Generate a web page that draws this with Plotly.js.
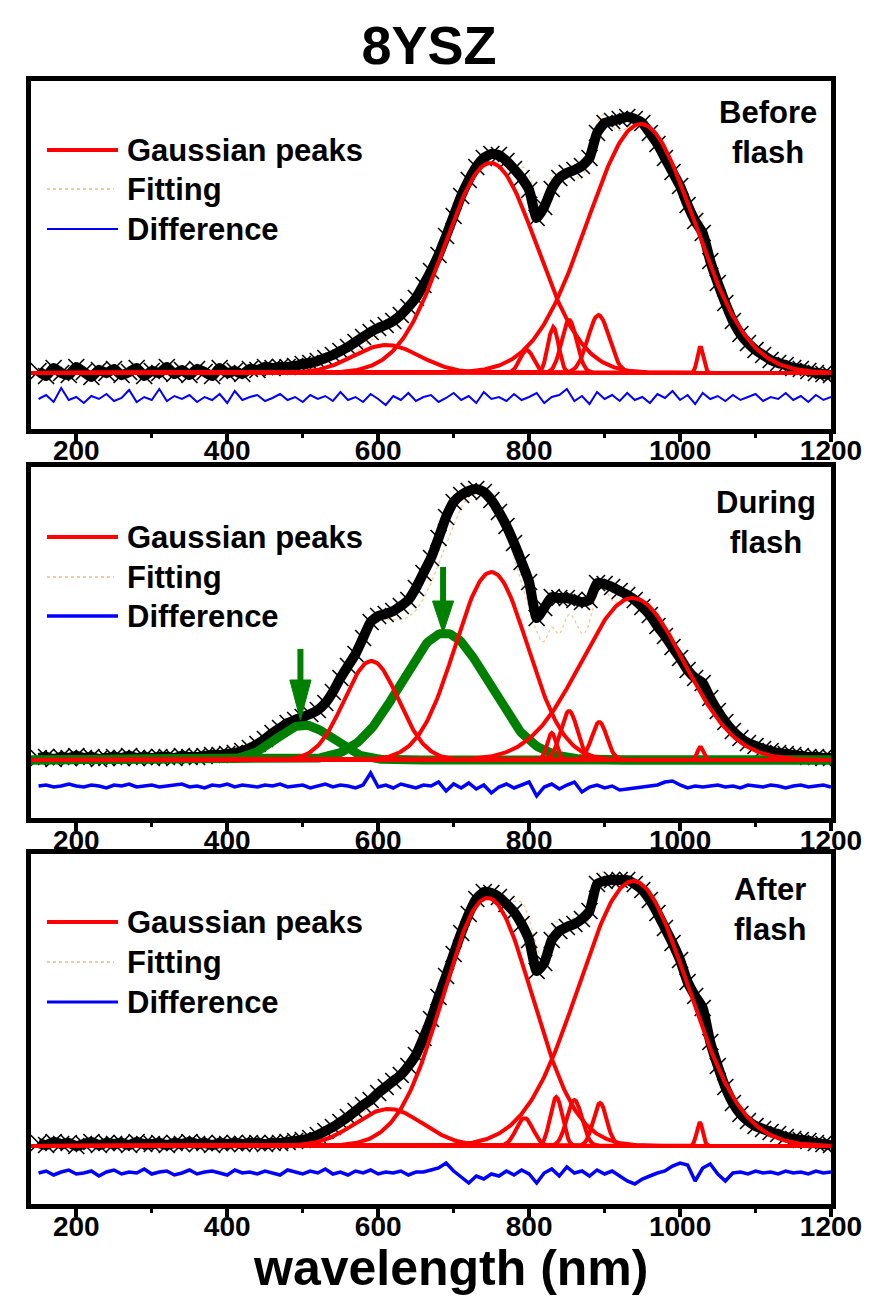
<!DOCTYPE html>
<html><head><meta charset="utf-8">
<script src="https://cdn.plot.ly/plotly-3.0.1.min.js"></script>
<style>html,body{margin:0;padding:0;background:#fff}#chart{width:874px;height:1301px}</style>
</head><body><div id="chart"></div>
<script>
// ---------------- DATA ----------------
const wavelength = [150,160,170,180,190,200,210,220,230,240,250,260,270,280,290,300,310,320,330,340,350,360,370,380,390,400,410,420,430,440,450,460,470,480,490,500,510,520,530,540,550,560,570,580,590,600,610,620,630,640,650,660,670,680,690,700,710,720,730,740,750,760,770,780,790,800,810,820,830,840,850,860,870,880,890,900,910,920,930,940,950,960,970,980,990,1000,1010,1020,1030,1040,1050,1060,1070,1080,1090,1100,1110,1120,1130,1140,1150,1160,1170,1180,1190,1200];
const xTicks = [200,400,600,800,1000,1200];
const legendLabels = ['Gaussian peaks','Fitting','Difference'];
const panelLabels = ['Before<br>flash','During<br>flash','After<br>flash'];

// Before flash
const beforeData = [2,-3,5,0,-2,6,1,-4,3,0,4,-2,1,5,-3,2,0,6,-1,3,-2,4,1,-3,5,0,2,-1,4,3,6,
 5,6,6,7,9,10,12,15,18,22,26,31,36,41,45,48,52,58,66,75,88,102,118,137,157,177,193,206,215,219,218,212,204,195,183,155,166,184,195,200,203,207,215,240,250,252,254,256,254,250,240,229,215,201,187,168,152,140,112,90,70,52,39,30,23,18,13,10,8,5,4,2,0,-1,-2];
const beforeDiff = [-26,-22,-29,-15,-27,-24,-30,-23,-26,-21,-28,-25,-17,-29,-24,-27,-16,-28,-23,-26,-22,-29,-24,-27,-21,-30,-18,-27,-24,-22,-28,-25,-21,-27,-24,-29,-22,-26,-23,-28,-19,-27,-24,-29,-21,-26,-32,-23,-27,-20,-28,-24,-22,-29,-25,-20,-27,-23,-30,-19,-26,-24,-28,-21,-27,-24,-20,-30,-24,-22,-16,-28,-23,-31,-19,-26,-22,-28,-20,-27,-24,-30,-21,-25,-18,-27,-22,-31,-20,-26,-23,-28,-22,-27,-24,-21,-28,-24,-26,-20,-27,-23,-29,-22,-27,-24];
const beforePeakCenters = [611,749,797,832,853,892,948,1027];
const beforePeakHeights = [28,210,23,46,53,58,249,26];
const beforePeakWidths  = [44,61,9,7,10,14,71,4];

// During flash
const duringData = [2,3,1,3,2,4,2,3,1,2,3,2,4,2,3,2,3,3,2,4,3,
 3,4,5,5,6,7,9,12,16,21,27,32,37,40,43,46,50,57,68,82,94,106,122,138,144,146,149,154,160,172,187,202,222,243,258,265,269,271,268,260,248,234,217,198,178,142,152,163,162,162,160,158,160,177,176,173,169,165,160,153,145,134,124,113,102,90,82,77,62,49,38,29,22,17,14,11,9,7,6,5,4,3,3,2,2];
const duringDiff = [-26,-25,-27,-26,-24,-26,-27,-25,-26,-28,-25,-26,-24,-27,-26,-25,-27,-26,-25,-24,-27,-26,-28,-25,-26,-24,-27,-25,-26,-27,-25,-26,-24,-27,-26,-25,-28,-26,-24,-27,-25,-26,-28,-25,
 -13,-27,-25,-28,-24,-26,-28,-25,-26,-22,-31,-24,-28,-23,-29,-25,-33,-27,-24,-28,-25,-22,-36,-27,-24,-29,-25,-22,-32,-27,-25,-28,-26,-30,-29,-28,-27,-26,-25,-22,-21,-25,-28,-26,-27,-26,-25,-27,-26,-28,-25,-26,-27,-25,-26,-28,-26,-25,-27,-26,-25,-27];
const duringPeakCenters = [591,750,830,853,893,937,1027];
const duringPeakHeights = [99,188,27,49,38,162,13];
const duringPeakWidths  = [36,48,6,11,10,68,4];
const duringNewPeakCenters = [502,688];
const duringNewPeakHeights = [35,127];
const duringNewPeakWidths  = [37,58];

// After flash
const afterData = [3,1,4,2,3,0,2,4,1,3,2,3,1,4,2,2,3,1,3,2,4,2,3,1,3,2,3,2,3,3,2,
 3,3,4,5,6,8,11,15,19,24,29,35,41,46,53,59,65,71,80,91,108,127,149,170,192,213,232,247,254,253,249,242,234,222,206,175,183,206,215,219,222,227,235,262,265,266,266,266,262,256,246,233,218,203,186,164,150,138,104,80,59,43,32,25,20,17,14,12,9,7,6,5,3,2,1];
const afterDiff = [-27,-25,-29,-26,-24,-28,-27,-25,-30,-26,-24,-28,-26,-27,-23,-28,-26,-25,-29,-27,-24,-28,-26,-25,-27,-29,-24,-27,-26,-28,-25,-27,-29,-24,-26,-28,-25,-27,-23,-28,-26,-29,-25,-27,-24,-28,-26,-27,-25,-29,-26,
 -26,-24,-22,-17,-25,-31,-37,-30,-33,-28,-30,-25,-29,-24,-28,-37,-27,-23,-30,-21,-27,-25,-30,-24,-28,-25,-30,-35,-38,-33,-30,-27,-25,-20,-17,-19,-35,-22,-18,-28,-35,-27,-26,-28,-25,-27,-26,-28,-25,-27,-26,-28,-25,-27,-26];
const afterPeakCenters = [614,745,794,836,860,894,938,1026];
const afterPeakHeights = [37,248,28,49,46,43,265,24];
const afterPeakWidths  = [45,59,11,8,10,9,72,4];

// arrows marking the new (green) peaks during flash: wavelength, tail, head base, tip
const arrowX = [497,686];
const arrowTail = [111,193];
const arrowBase = [80,159];
const arrowTip = [40,127];

// ---------------- CHART ----------------
const FONT = 'Liberation Sans, Arial, Helvetica, sans-serif';
const W = 874, H = 1301;
const M = {l:31, r:43, t:81, b:97};
const plotTop = M.t, plotBot = H - M.b, plotH = plotBot - plotTop;
const plotW = W - M.l - M.r;
const px2x = px => (px - M.l) / plotW;
const py2y = py => (plotBot - py) / plotH;

const panelFrames = [[81,428.5],[466.5,818],[854,1204]];
const baselines = [373,760,1146];
const legendRows = [[150,189,229],[537,577,616],[922,962,1002]];
const labelPos = [[768,132.5],[766,522.5],[770,909]];
const diffWidths = [2,3.5,3.5];
const legendDiffWidths = [2,3.5,3];
const TXT = 31;

// evaluation grid for Gaussian components
const evalGrid = [];
for (let v = 140; v <= 1200; v += 2) evalGrid.push(v);
function gauss(c, h, s) { return evalGrid.map(v => h * Math.exp(-((v - c) ** 2) / (2 * s * s))); }

const panels = [
  {data: beforeData, diff: beforeDiff, peaks: [beforePeakCenters, beforePeakHeights, beforePeakWidths], green: null},
  {data: duringData, diff: duringDiff, peaks: [duringPeakCenters, duringPeakHeights, duringPeakWidths], green: [duringNewPeakCenters, duringNewPeakHeights, duringNewPeakWidths]},
  {data: afterData, diff: afterDiff, peaks: [afterPeakCenters, afterPeakHeights, afterPeakWidths], green: null}
];

const traces = [];
const layout = {
  width: W, height: H, margin: M, showlegend: false,
  paper_bgcolor: '#fff', plot_bgcolor: '#fff',
  font: {family: FONT, color: '#000'},
  title: {text: '<b>8YSZ</b>', font: {family: FONT, size: 54, color: '#000'}, x: 429 / W, xanchor: 'center', y: 1 - 45 / H, yanchor: 'middle'},
  annotations: [], shapes: []
};

panels.forEach((p, i) => {
  const n = i === 0 ? '' : String(i + 1);
  const xa = 'x' + n, ya = 'y' + n;
  const [ft, fb] = panelFrames[i];
  const base = baselines[i];
  layout['xaxis' + n] = {
    domain: [0, 1], range: [140, 1200], anchor: ya, automargin: false,
    showline: true, linewidth: 5, linecolor: '#000', mirror: true,
    showgrid: false, zeroline: false,
    tickmode: 'array', tickvals: xTicks, ticktext: xTicks.map(String),
    ticks: 'outside', ticklen: 8, tickwidth: 4, tickcolor: '#000', ticklabelstandoff: -15,
    tickfont: {family: FONT, size: 28, color: '#000', weight: 'bold'},
    minor: {tickmode: 'array', tickvals: [300,500,700,900,1100], ticks: 'outside', ticklen: 4, tickwidth: 3, tickcolor: '#000', showgrid: false}
  };
  layout['yaxis' + n] = {
    domain: [py2y(fb), py2y(ft)], range: [-(fb - base), base - ft], anchor: xa, automargin: false,
    showline: true, linewidth: 5, linecolor: '#000', mirror: true,
    showgrid: false, zeroline: false, showticklabels: false, ticks: ''
  };

  // Gaussian components and their sum (fit)
  const fit = evalGrid.map(() => 0);
  const compTraces = [];
  if (p.green) {
    const [gc, gh, gw] = p.green;
    gc.forEach((c, k) => {
      const g = gauss(c, gh[k], gw[k]);
      g.forEach((v, j) => fit[j] += v);
      compTraces.push({x: evalGrid, y: g, xaxis: xa, yaxis: ya, type: 'scatter', mode: 'lines', line: {color: '#008000', width: 9}, hoverinfo: 'skip'});
    });
  }
  const [pc, ph, pw] = p.peaks;
  pc.forEach((c, k) => {
    const g = gauss(c, ph[k], pw[k]);
    g.forEach((v, j) => fit[j] += v);
    compTraces.push({x: evalGrid, y: g, xaxis: xa, yaxis: ya, type: 'scatter', mode: 'lines', line: {color: '#ff0000', width: 4}, hoverinfo: 'skip'});
  });

  // cumulative fit (under the measured band)
  traces.push({x: evalGrid, y: fit, xaxis: xa, yaxis: ya, type: 'scatter', mode: 'lines', line: {color: '#ffc28a', width: 1.2, dash: 'dot'}, hoverinfo: 'skip'});

  // measured spectrum
  const L = Math.min(wavelength.length, p.data.length);
  traces.push({x: wavelength.slice(0, L), y: p.data.slice(0, L), xaxis: xa, yaxis: ya, type: 'scatter', mode: 'lines+markers',
    line: {color: '#000', width: 10, shape: 'spline', smoothing: 0.5},
    marker: {symbol: 'x-thin-open', size: 16, color: '#000', line: {color: '#000', width: 1.6}}, hoverinfo: 'skip'});

  compTraces.forEach(t => traces.push(t));

  // difference
  const Ld = Math.min(wavelength.length, p.diff.length);
  traces.push({x: wavelength.slice(0, Ld), y: p.diff.slice(0, Ld), xaxis: xa, yaxis: ya, type: 'scatter', mode: 'lines', line: {color: '#0000ff', width: diffWidths[i]}, hoverinfo: 'skip'});

  // manual legend
  const rows = legendRows[i];
  const x0 = px2x(47), x1 = px2x(118);
  layout.shapes.push({type: 'line', xref: 'paper', yref: 'paper', x0, x1, y0: py2y(rows[0]), y1: py2y(rows[0]), line: {color: '#ff0000', width: 4}});
  layout.shapes.push({type: 'line', xref: 'paper', yref: 'paper', x0, x1: px2x(114), y0: py2y(rows[1]), y1: py2y(rows[1]), line: {color: '#f8c9a0', width: 2, dash: 'dot'}});
  layout.shapes.push({type: 'line', xref: 'paper', yref: 'paper', x0, x1, y0: py2y(rows[2]), y1: py2y(rows[2]), line: {color: '#0000ff', width: legendDiffWidths[i]}});
  legendLabels.forEach((t, k) => {
    layout.annotations.push({xref: 'paper', yref: 'paper', x: px2x(125), y: py2y(rows[k]), xanchor: 'left', yanchor: 'middle',
      text: '<b>' + t + '</b>', showarrow: false, font: {family: FONT, size: TXT, color: '#000'}});
  });
  layout.annotations.push({xref: 'paper', yref: 'paper', x: px2x(labelPos[i][0]), y: py2y(labelPos[i][1]), xanchor: 'center', yanchor: 'middle', align: 'center',
    text: '<b>' + panelLabels[i] + '</b>', showarrow: false, font: {family: FONT, size: TXT, color: '#000'}});
});

// arrows in the "During flash" panel
arrowX.forEach((ax, k) => {
  layout.shapes.push({type: 'line', xref: 'x2', yref: 'y2', x0: ax, x1: ax, y0: arrowTail[k], y1: arrowBase[k] - 2, line: {color: '#008000', width: 6}});
  layout.shapes.push({type: 'path', xref: 'x2', yref: 'y2', path: `M${ax - 14},${arrowBase[k]} L${ax + 14},${arrowBase[k]} L${ax},${arrowTip[k]} Z`, fillcolor: '#008000', line: {color: '#008000', width: 1}});
});

// x-axis title
layout.annotations.push({xref: 'paper', yref: 'paper', x: px2x(450), y: py2y(1268), xanchor: 'center', yanchor: 'middle',
  text: '<b>wavelength (nm)</b>', showarrow: false, font: {family: FONT, size: 50, color: '#000'}});

Plotly.newPlot('chart', traces, layout, {staticPlot: true, displayModeBar: false});
</script>
</body></html>
